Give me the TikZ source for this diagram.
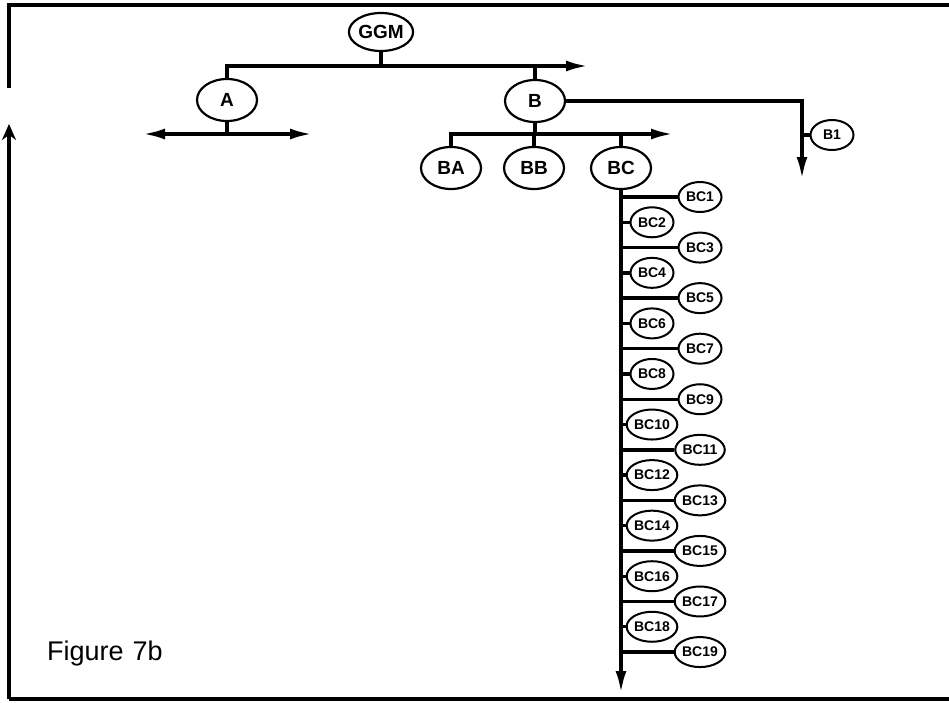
\documentclass[tikz,border=0pt]{standalone}
\usepackage{fontspec}
\setmainfont{Liberation Sans}
\usetikzlibrary{shapes.geometric,arrows.meta}
\tikzset{
  big/.style={ellipse, draw, line width=2.2pt, minimum width=60pt, minimum height=42pt, inner sep=0pt, font=\bfseries\fontsize{19}{19}\selectfont},
  small/.style={ellipse, draw, line width=2pt, minimum width=43pt, minimum height=30pt, inner sep=0pt, font=\bfseries\fontsize{14}{14}\selectfont},
  ln/.style={line width=3.4pt},
  frm/.style={line width=3.8pt},
  arr/.style={-{Latex[length=22pt,width=11pt]}},
  arrs/.style={{Latex[length=22pt,width=11pt]}-{Latex[length=22pt,width=11pt]}},
}
\begin{document}
\begin{tikzpicture}[x=1pt,y=-1pt]
\useasboundingbox (0,0) rectangle (949,702);
% frame
\coordinate (ftl) at (9,5);
\coordinate (ftr) at (949,5);
\coordinate (fgap) at (9,88);
\coordinate (fbl) at (9,699);
\coordinate (fbr) at (949,699);
\coordinate (ftip) at (9,124);
\draw[frm] (fgap) -- (ftl) -- (ftr);
\draw[frm] (fbr) -- (fbl);
\draw[frm,-{Stealth[length=16pt,width=14pt]}] (fbl) -- (ftip);
% nodes
\node[big, minimum width=58pt, minimum height=38pt] (GGM) at (381,32) {GGM};
\node[big] (A) at (227,100) {A};
\node[big] (B) at (535,101) {B};
\node[big] (BA) at (451,168) {BA};
\node[big] (BB) at (534,168) {BB};
\node[big] (BC) at (621,168) {BC};
\node[small] (B1) at (832,135) {B1};
% GGM level
\coordinate (tipG) at (588,66);
\draw[ln] (GGM.south) -- (GGM.south |- tipG);
\draw[ln,arr] (A.north) |- (tipG);
\draw[ln] (B.north) -- (B.north |- tipG);
% A level
\coordinate (aL) at (143,134);
\coordinate (aR) at (312,134);
\draw[ln] (A.south) -- (A.south |- aL);
\draw[ln,arrs] (aL) -- (aR);
% B level
\coordinate (bTip) at (673,134);
\draw[ln] (B.south) -- (B.south |- bTip);
\draw[ln,arr] (BA.north) |- (bTip);
\draw[ln] (BB.north) -- (BB.north |- bTip);
\draw[ln] (BC.north) -- (BC.north |- bTip);
% B1
\coordinate (b1Tip) at (802,179);
\draw[ln,arr] (B.east) -| (b1Tip);
\draw[ln] (B1.west) -- (B1.west -| b1Tip);
% BC column
\coordinate (bcEnd) at (621,693);
\draw[ln,arr] (BC.south) -- (bcEnd);
\foreach \k in {1,...,19}{
  \pgfmathsetmacro{\yy}{197+(\k-1)*25.28}
  \ifodd\k
    \node[small] (BC\k) at (700,\yy) {BC\k};
  \else
    \node[small] (BC\k) at (652,\yy) {BC\k};
  \fi
  \draw[ln] (BC\k.west) -- (BC\k.west -| bcEnd);
}
% caption
\node[anchor=base west, inner sep=0pt, font=\fontsize{27}{27}\selectfont] (cap) at (47,660) {Figure\hspace{9pt}7b};
\end{tikzpicture}
\end{document}
